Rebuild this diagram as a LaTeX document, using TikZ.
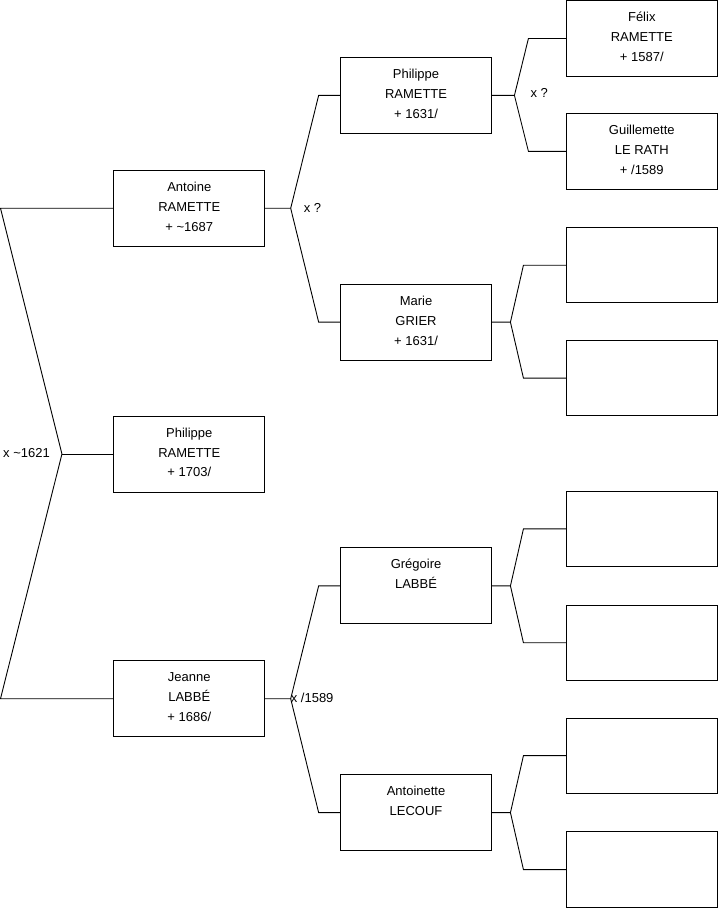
\documentclass[tikz,border=0pt]{standalone}
\usepackage{fontspec}
\setmainfont{Liberation Sans}
\newcommand{\pbox}[1]{\parbox[c][76pt][t]{151pt}{\vspace*{7pt}\centering\fontsize{13}{20}\selectfont #1}}
\tikzset{
  pers/.style={draw=black, line width=0.9pt, minimum width=151pt, minimum height=75.5pt, inner sep=0pt, font=\fontsize{13}{20}\selectfont},
  link/.style={draw=black, line width=0.9pt},
  lbl/.style={inner sep=0pt, font=\fontsize{13}{16}\selectfont}
}
\begin{document}
\begin{tikzpicture}[x=1pt,y=-1pt]
\useasboundingbox (0,-0.5) rectangle (719,908.5);
% generation 1
\node[pers] (ant) at (189.5,208) {\pbox{\strut Antoine\\\strut RAMETTE\\\strut + \textasciitilde1687}};
\node[pers] (phi) at (189.5,454) {\pbox{\strut Philippe\\\strut RAMETTE\\\strut + 1703/}};
\node[pers] (jea) at (189.5,699) {\pbox{\strut Jeanne\\\strut LABBÉ\\\strut + 1686/}};
% generation 2
\node[pers] (phr) at (416.5,95) {\pbox{\strut Philippe\\\strut RAMETTE\\\strut + 1631/}};
\node[pers] (mar) at (416.5,322) {\pbox{\strut Marie\\\strut GRIER\\\strut + 1631/}};
\node[pers] (gre) at (416.5,586) {\pbox{\strut Grégoire\\\strut LABBÉ}};
\node[pers] (ato) at (416.5,813) {\pbox{\strut Antoinette\\\strut LECOUF}};
% generation 3
\node[pers] (fel) at (642.5,38) {\pbox{\strut Félix\\\strut RAMETTE\\\strut + 1587/}};
\node[pers] (gui) at (642.5,151) {\pbox{\strut Guillemette\\\strut LE RATH\\\strut + /1589}};
\node[pers] (e3) at (642.5,265) {};
\node[pers] (e4) at (642.5,378) {};
\node[pers] (e5) at (642.5,529) {};
\node[pers] (e6) at (642.5,643) {};
\node[pers] (e7) at (642.5,756) {};
\node[pers] (e8) at (642.5,870) {};
% coordinates
\coordinate (t0) at (0.5,208);
\coordinate (f0) at (62,454);
\coordinate (b0) at (0.5,699);
\coordinate (f1) at (291,208);
\coordinate (f1a) at (319,95);
\coordinate (f1b) at (319,322);
\coordinate (f2) at (291,699);
\coordinate (f2a) at (319,586);
\coordinate (f2b) at (319,813);
\coordinate (g1) at (515,95);
\coordinate (g1a) at (529,38);
\coordinate (g1b) at (529,151);
\coordinate (g2) at (511,322);
\coordinate (g2a) at (524,265);
\coordinate (g2b) at (524,378);
\coordinate (g3) at (511,586);
\coordinate (g3a) at (524,529);
\coordinate (g3b) at (524,643);
\coordinate (g4) at (511,813);
\coordinate (g4a) at (524,756);
\coordinate (g4b) at (524,870);
% connectors
\draw[link] (ant.west) -- (t0) -- (f0) -- (b0) -- (jea.west);
\draw[link] (f0) -- (phi.west);
\draw[link] (ant.east) -- (f1) -- (f1a) -- (phr.west);
\draw[link] (f1) -- (f1b) -- (mar.west);
\draw[link] (jea.east) -- (f2) -- (f2a) -- (gre.west);
\draw[link] (f2) -- (f2b) -- (ato.west);
\draw[link] (phr.east) -- (g1) -- (g1a) -- (fel.west);
\draw[link] (g1) -- (g1b) -- (gui.west);
\draw[link] (mar.east) -- (g2) -- (g2a) -- (e3.west);
\draw[link] (g2) -- (g2b) -- (e4.west);
\draw[link] (gre.east) -- (g3) -- (g3a) -- (e5.west);
\draw[link] (g3) -- (g3b) -- (e6.west);
\draw[link] (ato.east) -- (g4) -- (g4a) -- (e7.west);
\draw[link] (g4) -- (g4b) -- (e8.west);
% labels
\node[lbl, anchor=east] (l0) at (50,453) {x \textasciitilde1621};
\node[lbl, anchor=west] (l1) at (304,208) {x ?};
\node[lbl, anchor=west] (l2) at (291,698) {x /1589};
\node[lbl, anchor=west] (l3) at (531,93) {x ?};
\end{tikzpicture}
\end{document}
